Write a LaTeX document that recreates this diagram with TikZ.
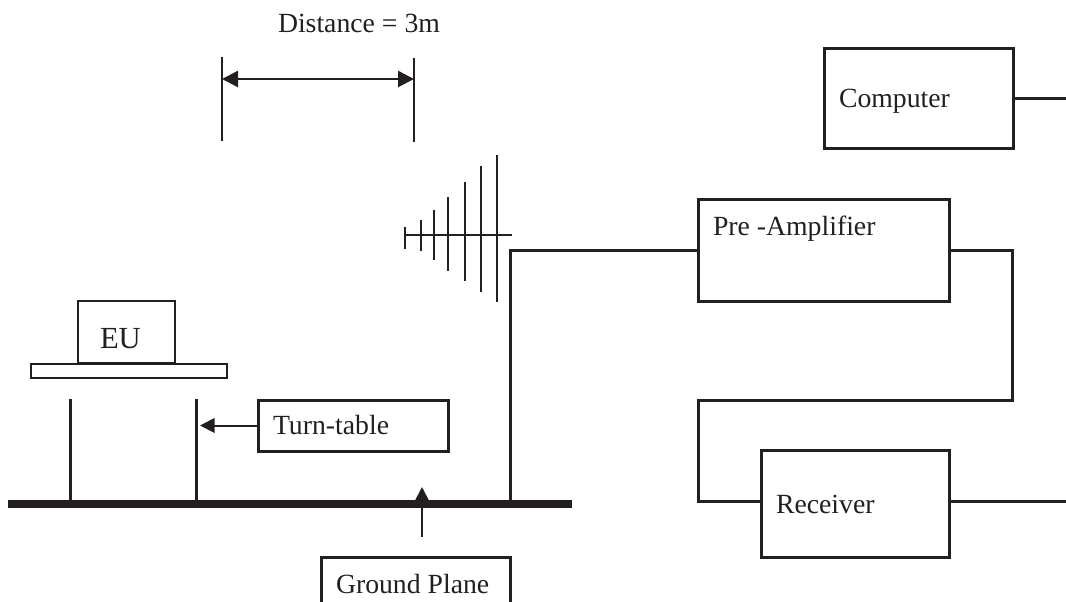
\documentclass[tikz,border=0pt]{standalone}
\usepackage{fontspec}
\setmainfont{Liberation Serif}
\usetikzlibrary{arrows.meta}
\definecolor{ink}{HTML}{231F20}
\tikzset{
  x=0.75pt,y=-0.75pt,
  wire/.style={line width=2.25pt,draw=ink,line join=miter},
  thinwire/.style={line width=1.5pt,draw=ink},
  element/.style={line width=1.2pt,draw=ink},
  groundbar/.style={line width=6pt,draw=ink},
  pointer/.style={line width=1.5pt,draw=ink,fill=ink,-{Triangle[length=11pt,width=11pt]}},
  spanarrow/.style={line width=1.8pt,draw=ink,fill=ink,{Triangle[length=12pt,width=12pt]}-{Triangle[length=12pt,width=12pt]}},
  block/.style={draw=ink,line width=2.25pt,rectangle,inner sep=0pt,outer sep=0pt,fill=white},
  smallblock/.style={draw=ink,line width=1.8pt,rectangle,inner sep=0pt,outer sep=0pt,fill=white},
  caption/.style={inner sep=0pt,outer sep=0pt,anchor=base west,text=ink,font=\fontsize{20.8pt}{24pt}\selectfont},
  bigcaption/.style={caption,font=\fontsize{23pt}{27pt}\selectfont},
}
\begin{document}
\begin{tikzpicture}
\useasboundingbox (0,0) rectangle (1066,602);
\clip (0,0) rectangle (1066,602);
\fill[white] (0,0) rectangle (1066,602);

% free ends
\coordinate (gl) at (8,504);
\coordinate (gr) at (572,504);
\coordinate (legLt) at (70,399);
\coordinate (legRt) at (196,399);
\coordinate (ttTip) at (200,425.5);
\coordinate (gpFrom) at (422,537);
\coordinate (gpTip) at (422,487);
\coordinate (dimLt) at (222,57);
\coordinate (dimLb) at (222,141);
\coordinate (dimRt) at (414,58);
\coordinate (dimRb) at (414,142);
\coordinate (dimY) at (0,79);
\coordinate (compOut) at (1066,98.5);
\coordinate (recvOut) at (1066,501);
\coordinate (antFeed) at (510,250.5);
\coordinate (antBack) at (405,235);
\coordinate (antFront) at (512,235);
\coordinate (loopR) at (1012.5,400);
\coordinate (loopL) at (698.5,400);
\coordinate (loopB) at (698.5,501);

% boxes
\node[block,minimum width=141.75pt,minimum height=75pt] (comp) at (918.5,99) {};
\node[block,minimum width=188.25pt,minimum height=75.75pt] (pre) at (823.5,250.5) {};
\node[block,minimum width=141pt,minimum height=80.25pt] (recv) at (855,503.5) {};
\node[block,minimum width=142.5pt,minimum height=38.25pt] (tt) at (353,425.5) {};
\node[block,minimum width=141.75pt,minimum height=47.25pt] (gp) at (415.5,588.5) {};
\node[smallblock,minimum width=72.75pt,minimum height=46.5pt] (eu) at (126.5,332) {};
\node[smallblock,minimum width=147pt,minimum height=10.5pt] (tab) at (129,371) {};

% ground plane and legs
\draw[groundbar] (gl) -- (gr);
\draw[wire] (legLt) -- (legLt |- gl);
\draw[wire] (legRt) -- (legRt |- gl);
\draw[wire] (antFeed |- gl) -- (antFeed) -- (pre.west);

% wiring
\draw[wire] (comp.east |- compOut) -- (compOut);
\draw[wire] (pre.east) -| (loopR) -- (loopL) -- (loopB) -- (loopB -| recv.west);
\draw[wire] (recv.east |- recvOut) -- (recvOut);

% pointers
\draw[pointer] (tt.west) -- (ttTip);
\draw[pointer] (gpFrom) -- (gpTip);

% distance
\draw[thinwire] (dimLt) -- (dimLb);
\draw[thinwire] (dimRt) -- (dimRb);
\draw[spanarrow] (dimLt |- dimY) -- (dimRt |- dimY);

% antenna
\draw[thinwire] (antBack) -- (antFront);
\foreach \ax/\at/\ab in {405/227/249,421/220/251,434/210/260,448/197/271,465/182/281,481/166/292,497/155/302}
  \draw[element] (\ax,\at) -- (\ax,\ab);

% texts
\node[caption] (tDist) at (278,33) {Distance = 3m};
\node[caption] (tComp) at (839,108) {Computer};
\node[caption] (tPre) at (713,236) {Pre -Amplifier};
\node[caption] (tRecv) at (776,513) {Receiver};
\node[caption] (tTurn) at (273,434) {Turn-table};
\node[caption] (tGp) at (336,593) {Ground Plane};
\node[bigcaption] (tEu) at (100,348) {EU};
\end{tikzpicture}
\end{document}
